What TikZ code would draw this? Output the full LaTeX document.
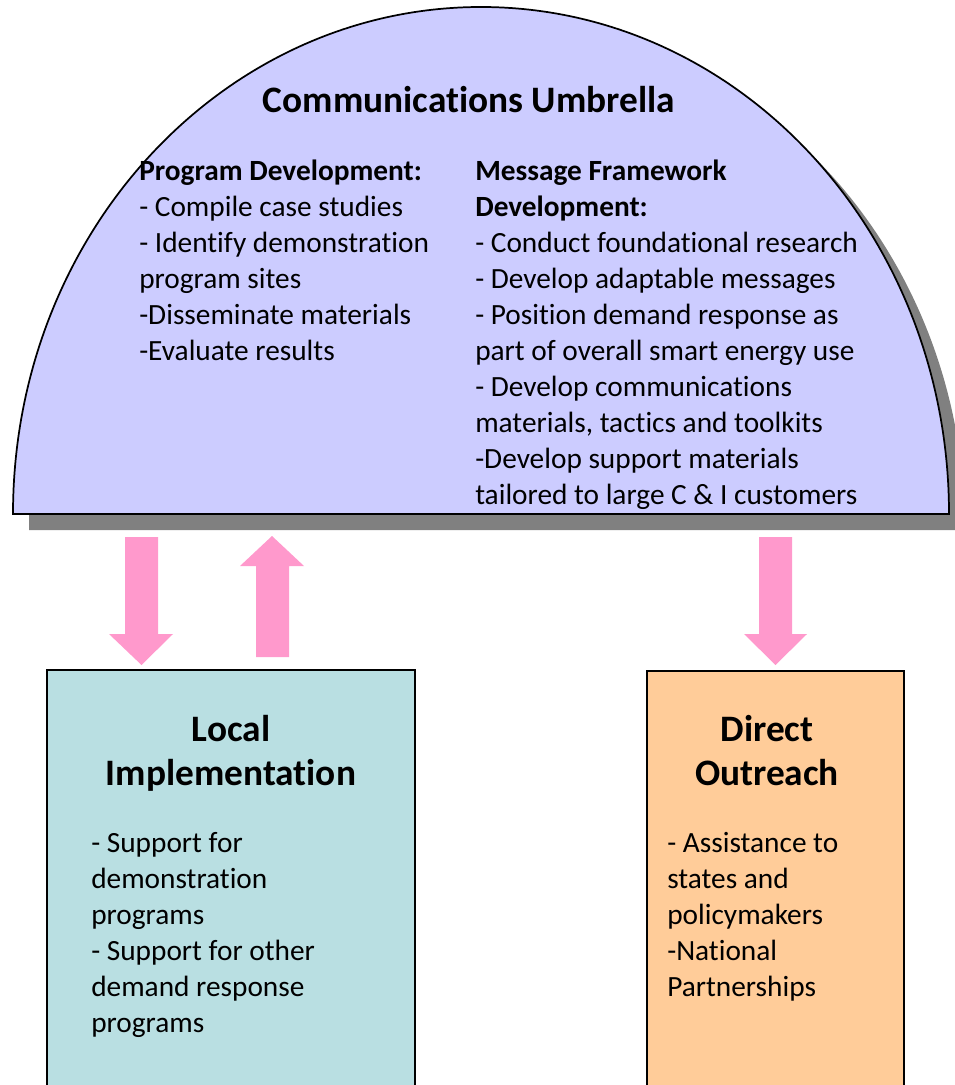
\documentclass[tikz,border=0pt]{standalone}
\usepackage{fontspec}
\setmainfont{Carlito}[Ligatures={NoCommon}]
\definecolor{umbfill}{RGB}{204,204,255}
\definecolor{shadowgray}{RGB}{128,128,128}
\definecolor{localfill}{RGB}{185,223,226}
\definecolor{directfill}{RGB}{255,204,153}
\definecolor{pinkarrow}{RGB}{255,153,204}
\begin{document}
\begin{tikzpicture}[x=0.75pt,y=-0.75pt,
  body/.style={anchor=base west,inner sep=0pt,font=\fontsize{22}{27}\selectfont},
  heading/.style={anchor=base,inner sep=0pt,align=center,font=\bfseries\fontsize{28}{33}\selectfont},
  boxline/.style={draw=black,line width=1.2pt},
  blockarrow/.style={fill=pinkarrow}]
\useasboundingbox (0,0) rectangle (954,1085);
% umbrella with shadow
\fill[shadowgray] (29,530) arc[start angle=180,end angle=360,x radius=468,y radius=507] -- cycle;
\filldraw[fill=umbfill,draw=black,line width=1.3pt] (13,514) arc[start angle=180,end angle=360,x radius=468,y radius=507] -- cycle;
% boxes
\filldraw[fill=localfill,boxline] (47,1095) -- (47,670) -- (415,670) -- (415,1095);
\filldraw[fill=directfill,boxline] (647,1095) -- (647,671) -- (904,671) -- (904,1095);
% block arrows
\fill[blockarrow] (125,537) -- (158,537) -- (158,634) -- (173,634) -- (141.5,665) -- (109,634) -- (125,634) -- cycle;
\fill[blockarrow] (256,657) -- (289,657) -- (289,566) -- (304,566) -- (272,536) -- (240,566) -- (256,566) -- cycle;
\fill[blockarrow] (759,537) -- (792,537) -- (792,634) -- (807,634) -- (775.5,665) -- (744,634) -- (759,634) -- cycle;
% texts
\node[heading] (title) at (469,112) {Communications Umbrella};
\node[body] (progdev) at (139,180) {\begin{tabular}[t]{@{}l@{}}
\textbf{Program Development:}\\
- Compile case studies\\
- Identify demonstration\\
program sites\\
-Disseminate materials\\
-Evaluate results
\end{tabular}};
\node[body] (msgdev) at (475,180) {\begin{tabular}[t]{@{}l@{}}
\textbf{Message Framework}\\
\textbf{Development:}\\
- Conduct foundational research\\
- Develop adaptable messages\\
- Position demand response as\\
part of overall smart energy use\\
- Develop communications\\
materials, tactics and toolkits\\
-Develop support materials\\
tailored to large C \& I customers
\end{tabular}};
\node[heading] (localhead) at (231,785) {Local\\Implementation};
\node[body] (localbody) at (91,852) {\begin{tabular}[t]{@{}l@{}}
- Support for\\
demonstration\\
programs\\
- Support for other\\
demand response\\
programs
\end{tabular}};
\node[heading] (directhead) at (767,785) {Direct\\Outreach};
\node[body] (directbody) at (667,852) {\begin{tabular}[t]{@{}l@{}}
- Assistance to\\
states and\\
policymakers\\
-National\\
Partnerships
\end{tabular}};
\end{tikzpicture}
\end{document}
